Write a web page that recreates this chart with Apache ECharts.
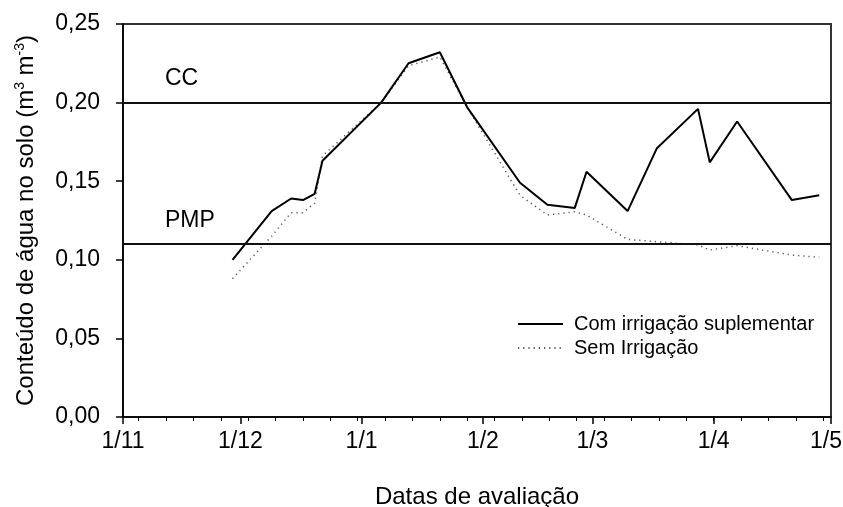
<!DOCTYPE html>
<html>
<head>
<meta charset="utf-8">
<script src="https://cdn.jsdelivr.net/npm/echarts@6/dist/echarts.min.js"></script>
<style>
html,body{margin:0;padding:0;background:#fff;}
#chart{width:843px;height:507px;}
</style>
</head>
<body>
<div id="chart"></div>
<script>
// ---- data ----
var dates = ['2009-11-29','2009-12-09','2009-12-14','2009-12-17','2009-12-20','2009-12-22',
  '2010-01-06','2010-01-13','2010-01-21','2010-01-28','2010-02-10T12:00:00','2010-02-17T12:00:00',
  '2010-02-24T12:00:00','2010-02-27T12:00:00','2010-03-10','2010-03-17T12:00:00','2010-03-28',
  '2010-03-31','2010-04-07','2010-04-21','2010-04-28'];
var comIrrigacao = [0.100, 0.131, 0.139, 0.138, 0.142, 0.163, 0.200, 0.225, 0.232, 0.197, 0.149,
  0.135, 0.133, 0.156, 0.131, 0.171, 0.196, 0.162, 0.188, 0.138, 0.141];
var semIrrigacao = [0.088, 0.115, 0.130, 0.130, 0.136, 0.166, 0.200, 0.2235, 0.229, 0.197, 0.141,
  0.1285, 0.1305, 0.1285, 0.113, 0.1115, 0.1095, 0.1062, 0.109, 0.103, 0.1016];
var seriesNames = ['Com irrigação suplementar', 'Sem Irrigação'];
var monthTicks = ['2009-11-01','2009-12-01','2010-01-01','2010-02-01','2010-03-01','2010-04-01','2010-05-01'];
var monthLabels = ['1/11','1/12','1/1','1/2','1/3','1/4','1/5'];
var CC = 0.199, PMP = 0.111;
var xName = 'Datas de avaliação';

function ts(s){ return echarts.time.parse(s).getTime(); }
var xMin = ts(monthTicks[0]), xMax = ts(monthTicks[monthTicks.length-1]);
var majorVals = monthTicks.map(ts);
// weekly minor ticks starting 5 Nov
var minorVals = [];
var d0 = echarts.time.parse('2009-11-05');
for (var i = 0; ; i++) {
  var d = new Date(d0.getFullYear(), d0.getMonth(), d0.getDate() + 7*i);
  if (d.getTime() >= xMax) break;
  minorVals.push(d.getTime());
}
var labelMap = {};
majorVals.forEach(function(v, i){ labelMap[v] = monthLabels[i]; });

var FONT = 'Liberation Sans';
var chart = echarts.init(document.getElementById('chart'), null, {renderer: 'canvas'});
chart.setOption({
  animation: false,
  backgroundColor: '#fff',
  textStyle: {fontFamily: FONT, color: '#000'},
  grid: {left: 123, right: 12, top: 24, bottom: 90, show: true, borderColor: '#333', borderWidth: 2,
    containLabel: false, outerBoundsMode: 'none'},
  legend: {
    orient: 'vertical', left: 517, top: 314, padding: 0, itemWidth: 45, itemHeight: 14, itemGap: 4,
    data: seriesNames,
    itemStyle: {opacity: 0},
    textStyle: {fontFamily: FONT, fontSize: 20, color: '#000', padding: [0,0,0,6]}
  },
  xAxis: [{
    type: 'value', min: xMin, max: xMax, position: 'bottom',
    axisLine: {show: true, lineStyle: {color: '#000', width: 1.5}},
    axisTick: {show: true, inside: false, length: 7, lineStyle: {color: '#000', width: 1.5}, customValues: majorVals},
    axisLabel: {show: true, customValues: majorVals, margin: 13, fontSize: 23, color: '#000', fontFamily: FONT,
      formatter: function(v){
        var t = labelMap[v] || '';
        return v === xMax ? '{last|' + t + '}' : t;
      },
      rich: {last: {fontSize: 23, color: '#000', fontFamily: FONT, padding: [0, 10, 0, 0]}}},
    splitLine: {show: false},
    name: xName, nameLocation: 'middle', nameGap: 68,
    nameTextStyle: {fontSize: 24, color: '#000', fontFamily: FONT}
  }, {
    type: 'value', min: xMin, max: xMax, position: 'bottom',
    axisLine: {show: false},
    axisTick: {show: true, inside: false, length: 4, lineStyle: {color: '#000', width: 1}, customValues: minorVals},
    axisLabel: {show: false},
    splitLine: {show: false}
  }],
  yAxis: {
    type: 'value', min: 0, max: 0.25, interval: 0.05,
    axisLine: {show: true, lineStyle: {color: '#000', width: 1.5}},
    axisTick: {show: true, inside: false, length: 7, lineStyle: {color: '#000', width: 1.5}},
    axisLabel: {margin: 23, fontSize: 23, color: '#000', fontFamily: FONT,
      formatter: function(v){ return v.toFixed(2).replace('.', ','); }},
    splitLine: {show: false},
    name: 'Conteúdo de água no solo (m{sup|3} m{sup|-3})',
    nameLocation: 'middle', nameGap: 84, nameRotate: 90,
    nameTextStyle: {fontSize: 24, color: '#000', fontFamily: FONT, lineHeight: 26,
      rich: {sup: {fontSize: 14, verticalAlign: 'top', lineHeight: 26, fontFamily: FONT, color: '#000'}}}
  },
  series: [{
    name: seriesNames[0], type: 'line', symbol: 'none', xAxisIndex: 0,
    data: dates.map(function(d, i){ return [ts(d), comIrrigacao[i]]; }),
    lineStyle: {color: '#000', width: 2, type: 'solid'}, itemStyle: {color: '#000'},
    z: 3,
    markLine: {
      silent: true, symbol: ['none','none'],
      lineStyle: {color: '#111', width: 2, type: 'solid'},
      label: {show: true, position: 'insideStartTop', distance: [42, 12], formatter: '{b}',
        fontSize: 23, color: '#000', fontFamily: FONT},
      data: [{name: 'CC', yAxis: CC}, {name: 'PMP', yAxis: PMP}]
    }
  }, {
    name: seriesNames[1], type: 'line', symbol: 'none', xAxisIndex: 0,
    data: dates.map(function(d, i){ return [ts(d), semIrrigacao[i]]; }),
    lineStyle: {color: '#555', width: 1.5, type: [1.2, 4]}, itemStyle: {color: '#555'},
    z: 2
  }]
});
</script>
</body>
</html>
